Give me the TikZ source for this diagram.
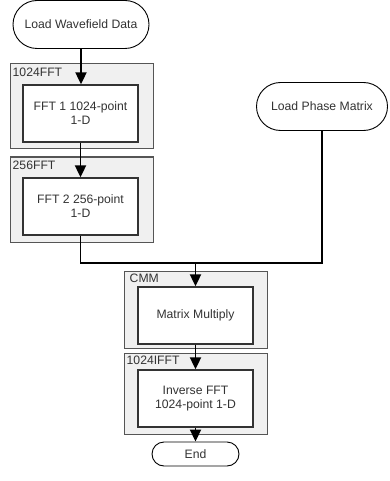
\documentclass[tikz,border=0pt]{standalone}
\usepackage{fontspec}
\setmainfont{Liberation Sans}
\usetikzlibrary{arrows.meta,calc}
\definecolor{txt}{HTML}{333333}
\definecolor{boxfill}{HTML}{F0F0F0}
\definecolor{outerline}{HTML}{555555}
\begin{document}
\begin{tikzpicture}[x=1pt,y=-1pt,
  every node/.style={font=\fontsize{12.2}{14}\selectfont, text=txt, inner sep=0pt},
  term/.style={draw=black, line width=0.9pt, fill=white, rounded corners=#1},
  term/.default=24pt,
  outerbox/.style={draw=outerline, line width=1pt, fill=boxfill, minimum width=143pt},
  innerbox/.style={draw=black!80, line width=1.3pt, fill=white, minimum width=115pt, minimum height=57pt, align=center},
  grplabel/.style={anchor=north west},
  conn/.style={draw=black, line width=1.9pt},
  arr/.style={conn, -{Triangle[width=11pt,length=12pt]}}
]
\useasboundingbox (0,0) rectangle (390,481);

% terminals
\node[term, minimum width=136pt, minimum height=48pt] (lwd) at (81,24.5) {Load Wavefield Data};
\node[term, minimum width=131pt, minimum height=48pt] (lpm) at (322,106.5) {Load Phase Matrix};
\node[term=12pt, minimum width=87pt, minimum height=24pt] (end) at (195.5,454) {End};

% group boxes
\node[outerbox, minimum height=85pt] (g1) at (81.5,106.5) {};
\node[grplabel] (g1l) at ($(g1.north west)+(3,4)$) {1024FFT};
\node[innerbox] (fft1) at (80.5,113.5) {FFT 1 1024-point\\1-D};

\node[outerbox, minimum height=85pt] (g2) at (81.5,199.5) {};
\node[grplabel] (g2l) at ($(g2.north west)+(3,4)$) {256FFT};
\node[innerbox] (fft2) at (80.5,206.5) {FFT 2 256-point\\1-D};

\node[outerbox, minimum height=77pt] (g3) at (195.5,309.5) {};
\node[grplabel] (g3l) at ($(g3.north west)+(6,3)$) {CMM};
\node[innerbox] (cmm) at (195.5,315.5) {Matrix Multiply};

\node[outerbox, minimum height=81pt] (g4) at (195.5,393.5) {};
\node[grplabel] (g4l) at ($(g4.north west)+(3,3)$) {1024IFFT};
\node[innerbox] (ifft) at (195.5,398.5) {Inverse FFT\\1024-point 1-D};

% connectors
\coordinate (join) at (195.5,263);
\draw[arr] (lwd.south) -- (lwd.south |- fft1.north);
\draw[arr] (fft1.south) -- (fft2.north);
\draw[conn] (fft2.south) |- (join);
\draw[conn] (lpm.south) |- (join);
\draw[arr] (join) -- (cmm.north);
\draw[arr] (cmm.south) -- (ifft.north);
\draw[arr] (ifft.south) -- (end.north);
\end{tikzpicture}
\end{document}
